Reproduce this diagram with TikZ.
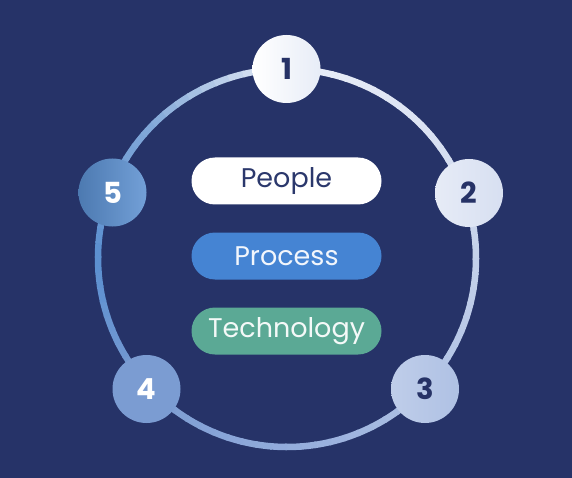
\documentclass[tikz,border=0pt]{standalone}
\usepackage{fontspec}
\setmainfont{Poppins}
\usetikzlibrary{calc}
\definecolor{bg}{HTML}{263368}
\definecolor{navy}{HTML}{263266}
\definecolor{pilltxt}{HTML}{2B386C}
\definecolor{pblue}{HTML}{4584D3}
\definecolor{pgreen}{HTML}{5BA995}
\definecolor{rA}{HTML}{EAEFF8}
\definecolor{rB}{HTML}{DCE3F3}
\definecolor{rC}{HTML}{C4D1EA}
\definecolor{rD}{HTML}{AFC1E4}
\definecolor{rE}{HTML}{93ACDC}
\definecolor{rF}{HTML}{7B9CD2}
\definecolor{rG}{HTML}{5A8FD0}
\definecolor{rH}{HTML}{82A8D8}
\tikzset{
  num/.style={circle, minimum size=68pt, inner sep=0pt, font=\bfseries\fontsize{29}{29}\selectfont},
  pill/.style={rounded corners=23.5pt, minimum width=190pt, minimum height=47pt, inner sep=0pt, font=\fontsize{27}{27}\selectfont},
  ring/.style={line width=6.5pt}
}
\begin{document}
\begin{tikzpicture}[x=1pt,y=-1pt]
\fill[bg] (0,0) rectangle (572,478);
\useasboundingbox (0,0) rectangle (572,478);
\coordinate (C) at (287,258);
% gradient ring, drawn as short arcs of blended colour
\foreach \s/\e/\ca/\cb in {90/45/rA/rB, 45/0/rB/rC, 0/-45/rC/rD, -45/-90/rD/rE, -90/-135/rE/rF, -135/-180/rF/rG, -180/-225/rG/rH, -225/-270/rH/rA}{
  \foreach \i in {0,...,9}{
    \pgfmathsetmacro\aa{\s+(\e-\s)*\i/10}
    \pgfmathsetmacro\bb{\s+(\e-\s)*(\i+1)/10 - 0.6}
    \pgfmathtruncatemacro\p{10*\i+5}
    \draw[ring, color=\cb!\p!\ca, line cap=butt]
      ($(C)+({189*cos(\aa)},{-189*sin(\aa)})$)
      arc[start angle=-\aa, end angle=-\bb, radius=189];
  }
}
% numbered nodes
\node[num, left color=white, right color=rA!80!rB, text=navy] (n1) at (286.5,69) {1};
\node[num, left color=rB!70!white, right color=rB!80!rC, text=navy] (n2) at (469,193) {2};
\node[num, left color=rD!80!white, right color=rD, text=navy] (n3) at (425,389) {3};
\node[num, fill=rF, text=white] (n4) at (146.5,389) {4};
\node[num, left color=rG!85!black, right color=rG!85!white, text=white] (n5) at (112.5,192.5) {5};
% pills
\node[pill, fill=white, text=pilltxt] (people) at (286.5,181) {People};
\node[pill, fill=pblue, text=white!93!pblue] (process) at (286.5,256) {Process};
\node[pill, fill=pgreen, text=white!93!pgreen] (tech) at (286.5,331) {Technology};
\end{tikzpicture}
\end{document}
